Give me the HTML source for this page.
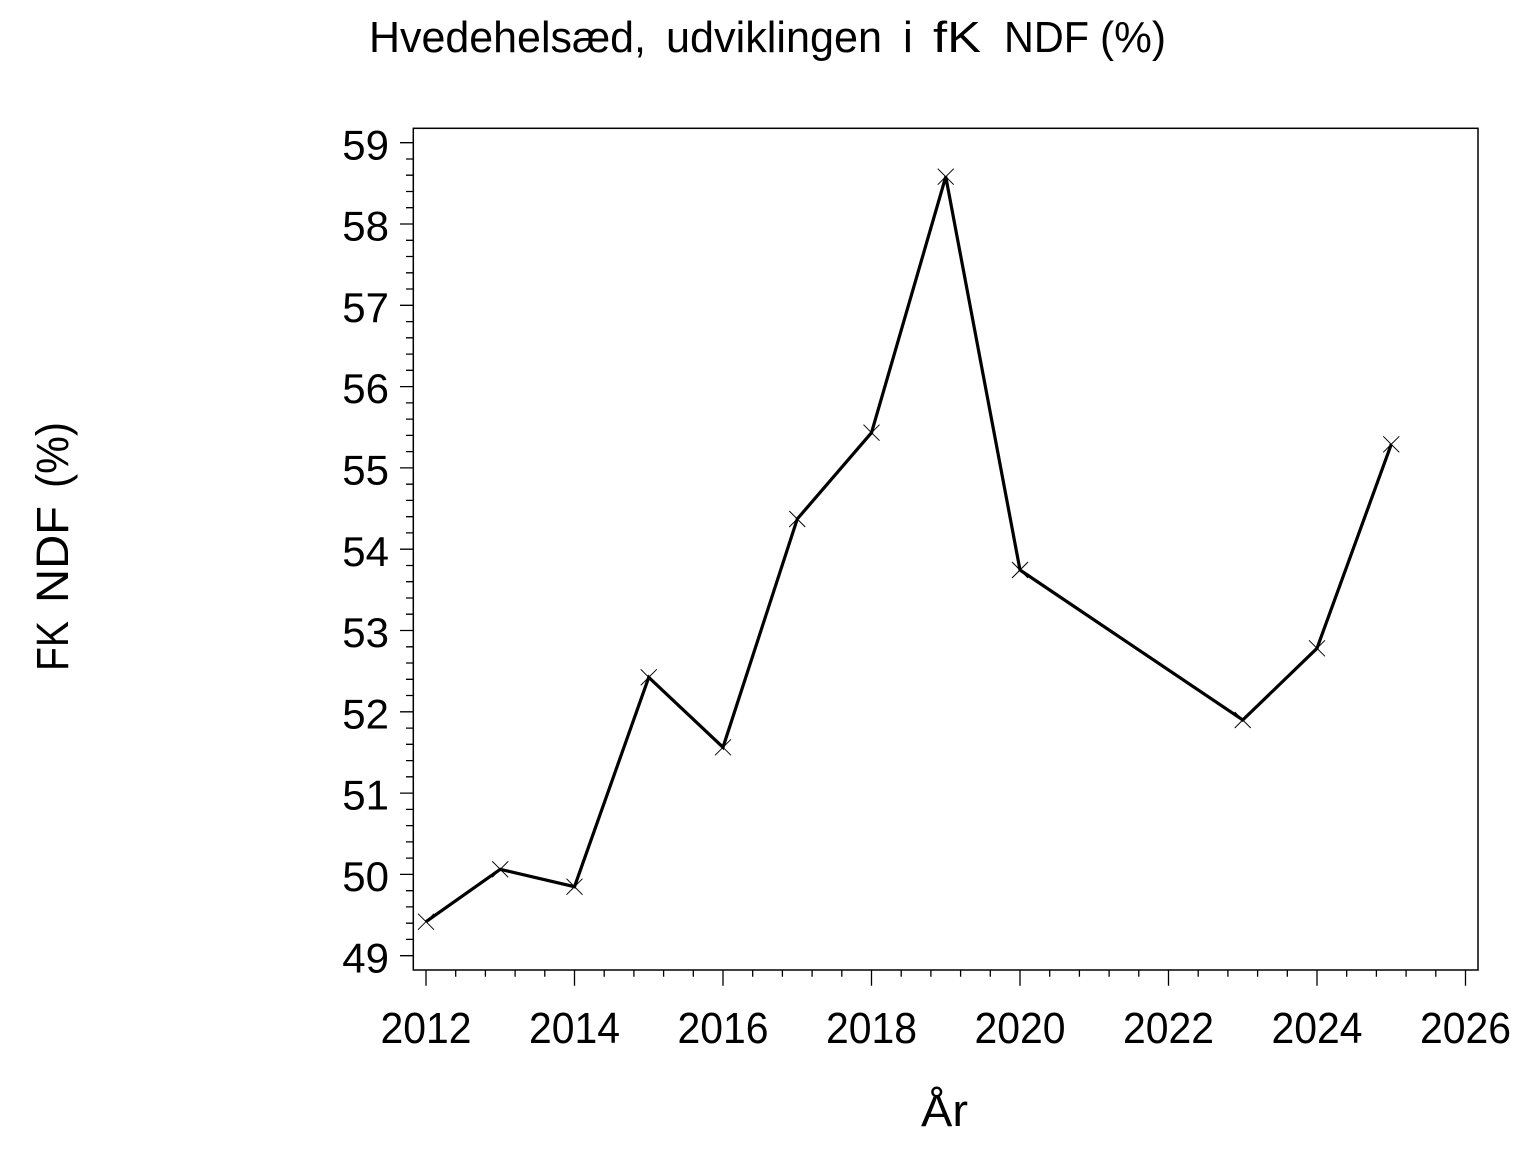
<!DOCTYPE html>
<html>
<head>
<meta charset="utf-8">
<style>
  html, body { margin: 0; padding: 0; background: #fff; }
  svg { display: block; }
  text { font-family: "Liberation Sans", Arial, sans-serif; fill: #000; }
</style>
</head>
<body>
<svg width="1536" height="1152" viewBox="0 0 1536 1152" xmlns="http://www.w3.org/2000/svg">
  <rect x="0" y="0" width="1536" height="1152" fill="#fff"/>

  <!-- Title -->
  <g font-size="44">
    <text x="369" y="52" textLength="277" lengthAdjust="spacingAndGlyphs">Hvedehelsæd,</text>
    <text x="666" y="52" textLength="216" lengthAdjust="spacingAndGlyphs">udviklingen</text>
    <text x="903" y="52">i</text>
    <text x="933" y="52" textLength="48" lengthAdjust="spacingAndGlyphs">fK</text>
    <text x="1004" y="52" textLength="85" lengthAdjust="spacingAndGlyphs">NDF</text>
    <text x="1100" y="52" textLength="66" lengthAdjust="spacingAndGlyphs">(%)</text>
  </g>

  <!-- Frame -->
  <rect x="413.3" y="128.3" width="1064.7" height="841.7" fill="none" stroke="#000" stroke-width="1.5"/>

  <!-- Y ticks -->
  <path stroke="#000" stroke-width="1.3" fill="none" d="
    M400 142.7H413.3 M406 159.0H413.3 M406 175.2H413.3 M406 191.5H413.3 M406 207.7H413.3
    M400 224.0H413.3 M406 240.3H413.3 M406 256.5H413.3 M406 272.8H413.3 M406 289.0H413.3
    M400 305.3H413.3 M406 321.6H413.3 M406 337.8H413.3 M406 354.1H413.3 M406 370.3H413.3
    M400 386.6H413.3 M406 402.9H413.3 M406 419.1H413.3 M406 435.4H413.3 M406 451.6H413.3
    M400 467.9H413.3 M406 484.2H413.3 M406 500.4H413.3 M406 516.7H413.3 M406 532.9H413.3
    M400 549.2H413.3 M406 565.5H413.3 M406 581.7H413.3 M406 598.0H413.3 M406 614.2H413.3
    M400 630.5H413.3 M406 646.8H413.3 M406 663.0H413.3 M406 679.3H413.3 M406 695.5H413.3
    M400 711.8H413.3 M406 728.1H413.3 M406 744.3H413.3 M406 760.6H413.3 M406 776.8H413.3
    M400 793.1H413.3 M406 809.4H413.3 M406 825.6H413.3 M406 841.9H413.3 M406 858.1H413.3
    M400 874.4H413.3 M406 890.7H413.3 M406 906.9H413.3 M406 923.2H413.3 M406 939.4H413.3
    M400 955.7H413.3"/>

  <!-- X ticks -->
  <path stroke="#000" stroke-width="1.3" fill="none" d="
    M426 970V985.7 M455.7 970V976.7 M485.4 970V976.7 M515.1 970V976.7 M544.8 970V976.7
    M574.5 970V985.7 M604.2 970V976.7 M633.9 970V976.7 M663.6 970V976.7 M693.3 970V976.7
    M723 970V985.7 M752.7 970V976.7 M782.4 970V976.7 M812.1 970V976.7 M841.8 970V976.7
    M871.5 970V985.7 M901.2 970V976.7 M930.9 970V976.7 M960.6 970V976.7 M990.3 970V976.7
    M1020 970V985.7 M1049.7 970V976.7 M1079.4 970V976.7 M1109.1 970V976.7 M1138.8 970V976.7
    M1168.5 970V985.7 M1198.2 970V976.7 M1227.9 970V976.7 M1257.6 970V976.7 M1287.3 970V976.7
    M1317 970V985.7 M1346.7 970V976.7 M1376.4 970V976.7 M1406.1 970V976.7 M1435.8 970V976.7
    M1465.5 970V985.7"/>

  <!-- Y tick labels -->
  <g font-size="42" text-anchor="end">
    <text x="389" y="159.3">59</text>
    <text x="389" y="240.6">58</text>
    <text x="389" y="321.9">57</text>
    <text x="389" y="403.2">56</text>
    <text x="389" y="484.5">55</text>
    <text x="389" y="565.8">54</text>
    <text x="389" y="647.1">53</text>
    <text x="389" y="728.4">52</text>
    <text x="389" y="809.7">51</text>
    <text x="389" y="891.0">50</text>
    <text x="389" y="972.3">49</text>
  </g>

  <!-- X tick labels -->
  <g font-size="44" text-anchor="middle">
    <text x="426" y="1043" textLength="91" lengthAdjust="spacingAndGlyphs">2012</text>
    <text x="574.5" y="1043" textLength="91" lengthAdjust="spacingAndGlyphs">2014</text>
    <text x="723" y="1043" textLength="91" lengthAdjust="spacingAndGlyphs">2016</text>
    <text x="871.5" y="1043" textLength="91" lengthAdjust="spacingAndGlyphs">2018</text>
    <text x="1020" y="1043" textLength="91" lengthAdjust="spacingAndGlyphs">2020</text>
    <text x="1168.5" y="1043" textLength="91" lengthAdjust="spacingAndGlyphs">2022</text>
    <text x="1317" y="1043" textLength="91" lengthAdjust="spacingAndGlyphs">2024</text>
    <text x="1465.5" y="1043" textLength="91" lengthAdjust="spacingAndGlyphs">2026</text>
  </g>

  <!-- Axis labels -->
  <text x="921" y="1126" font-size="45" textLength="47" lengthAdjust="spacingAndGlyphs">År</text>
  <g transform="translate(68,0) rotate(-90)" font-size="45">
    <text x="-671" y="0" textLength="50" lengthAdjust="spacingAndGlyphs">FK</text>
    <text x="-603" y="0" textLength="97" lengthAdjust="spacingAndGlyphs">NDF</text>
    <text x="-488" y="0" textLength="66" lengthAdjust="spacingAndGlyphs">(%)</text>
  </g>

  <!-- Series line -->
  <polyline fill="none" stroke="#000" stroke-width="3.2" stroke-linejoin="miter"
    points="426,921.7 500.25,869.3 574.5,886.7 648.75,677.3 723,747.3 797.25,519 871.5,432.7 945.75,176.7 1020,570 1242.75,720 1317,648.3 1391.25,444.3"/>

  <!-- Markers -->
  <path stroke="#000" stroke-width="1" fill="none" d="
    M418 913.7L434 929.7M434 913.7L418 929.7
    M492.25 861.3L508.25 877.3M508.25 861.3L492.25 877.3
    M566.5 878.7L582.5 894.7M582.5 878.7L566.5 894.7
    M640.75 669.3L656.75 685.3M656.75 669.3L640.75 685.3
    M715 739.3L731 755.3M731 739.3L715 755.3
    M789.25 511L805.25 527M805.25 511L789.25 527
    M863.5 424.7L879.5 440.7M879.5 424.7L863.5 440.7
    M937.75 168.7L953.75 184.7M953.75 168.7L937.75 184.7
    M1012 562L1028 578M1028 562L1012 578
    M1234.75 712L1250.75 728M1250.75 712L1234.75 728
    M1309 640.3L1325 656.3M1325 640.3L1309 656.3
    M1383.25 436.3L1399.25 452.3M1399.25 436.3L1383.25 452.3"/>
</svg>
</body>
</html>
